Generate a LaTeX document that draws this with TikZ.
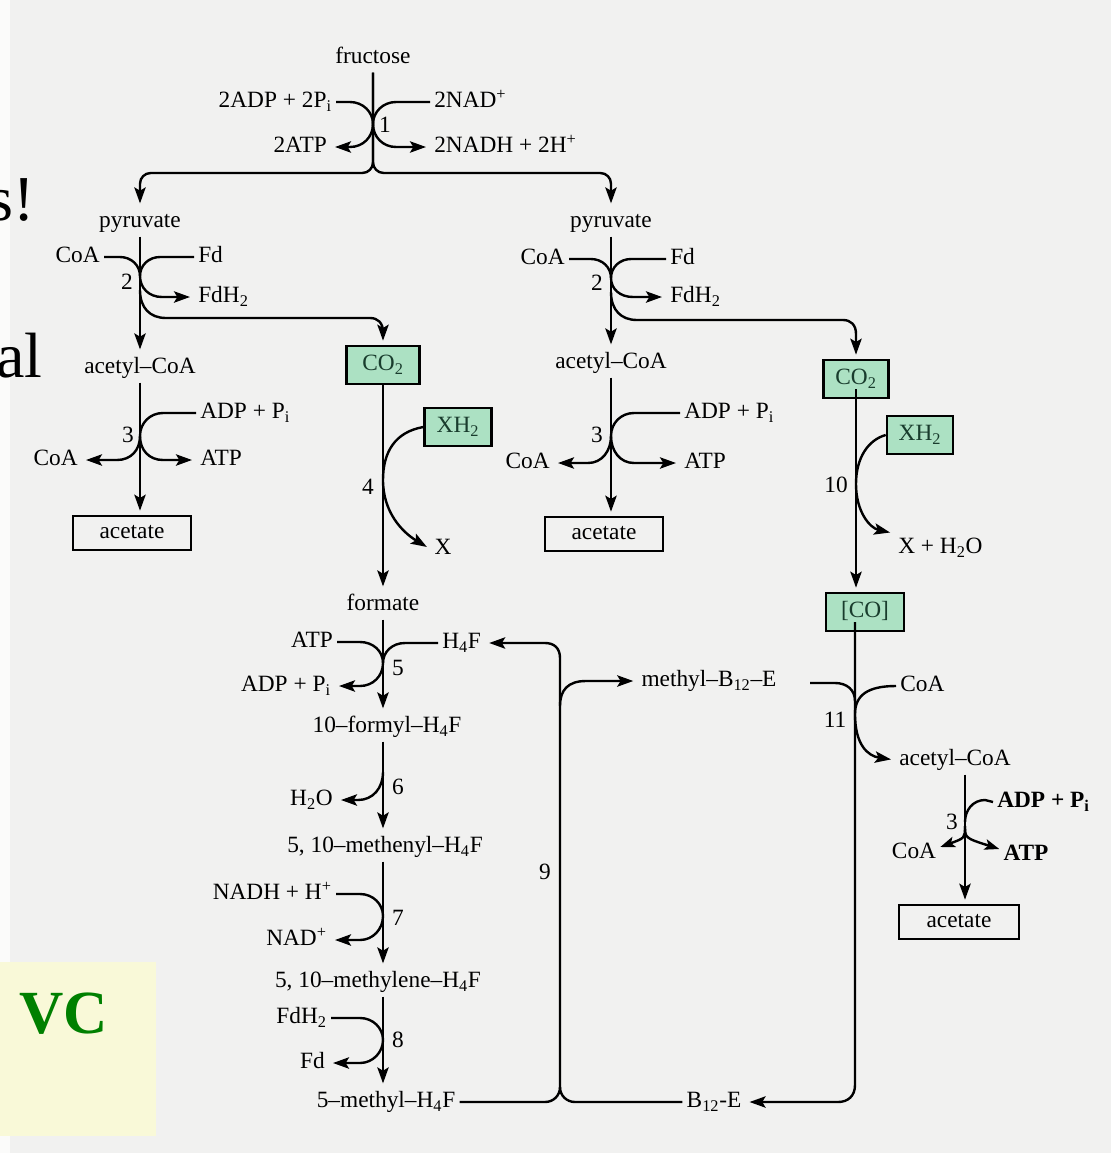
\documentclass[tikz,border=0pt]{standalone}
\usepackage{fontspec}
\setmainfont{Liberation Serif}
\usetikzlibrary{arrows.meta,calc}
\definecolor{bg}{RGB}{241,241,240}
\definecolor{boxg}{RGB}{172,225,195}
\definecolor{boxtxt}{RGB}{25,60,45}
\definecolor{vcg}{RGB}{0,128,0}
\definecolor{yel}{RGB}{249,249,216}
\newcommand\dfont{\fontsize{17.5}{21}\selectfont}
\begin{document}
\begin{tikzpicture}[x=0.75pt,y=-0.75pt,
  t/.style={inner sep=3pt, font=\dfont, text height=12pt, text depth=3.5pt},
  tb/.style={t, font=\dfont\bfseries},
  num/.style={inner sep=1pt, font=\dfont},
  ln/.style={line width=1.8pt},
  ar/.style={ln, -{Stealth[length=12pt,width=8.5pt,inset=2.5pt]}, shorten >=3pt},
  arn/.style={ln, -{Stealth[length=11pt,width=8pt,inset=2.5pt]}},
  abox/.style={t, draw, line width=1.5pt, minimum width=89pt, minimum height=26pt},
  gbox/.style={t, draw, line width=2pt, fill=boxg, text=boxtxt, minimum height=28.5pt},
  big/.style={inner sep=0pt, anchor=base west, font=\fontsize{48}{48}\selectfont}
]
\useasboundingbox (0,0) rectangle (1111,1153);
\clip (0,0) rectangle (1111,1153);
\fill[bg] (0,0) rectangle (1111,1153);
\fill[white!70!bg] (0,0) rectangle (10,1153);
\fill[yel] (0,962) rectangle (156,1136);

% slide fragments
\node[big] (sfrag) at (-12,220) {s!};
\node[big] (alfrag) at (-4,377) {al};
\node[inner sep=0pt, anchor=base west, text=vcg, font=\fontsize{46}{46}\selectfont\bfseries] (vc) at (19,1033) {VC};

% ---------- top: reaction 1 ----------
\node[t] (fru) at (373,58) {fructose};
\node[t,anchor=east] (adp1) at (336,102) {2ADP + 2P\textsubscript{i}};
\node[t,anchor=west] (nad1) at (430,102) {2NAD\textsuperscript{+}};
\node[t,anchor=east] (atp1) at (331,147) {2ATP};
\node[t,anchor=west] (nadh1) at (430,147) {2NADH + 2H\textsuperscript{+}};
\node[num] (n1) at (385,125) {1};
\coordinate (split) at (373,173);

% ---------- branch A ----------
\node[t] (pyrA) at (140,222) {pyruvate};
\node[t,anchor=east] (coa2A) at (104,257) {CoA};
\node[t,anchor=west] (fd2A) at (194,257) {Fd};
\node[t,anchor=west] (fdh2A) at (194,297) {FdH\textsubscript{2}};
\node[num] (n2A) at (127,282) {2};
\node[t] (acA) at (140,368) {acetyl--CoA};
\node[t,anchor=west] (adp3A) at (196,413) {ADP + P\textsubscript{i}};
\node[t,anchor=east] (coa3A) at (82,460) {CoA};
\node[t,anchor=west] (atp3A) at (196,460) {ATP};
\node[num] (n3A) at (128,435) {3};
\node[abox] (acetA) at (132,533) {acetate};

% ---------- middle column ----------
\coordinate (cm) at (383,0);
\node[gbox, minimum width=55pt] (co2A) at (383,365) {CO\textsubscript{2}};
\node[gbox, minimum width=50pt] (xh2A) at (458,427) {XH\textsubscript{2}};
\node[t] (xA) at (443,549) {X};
\node[num] (n4) at (368,487) {4};
\node[t] (form) at (383,605) {formate};
\node[t,anchor=east] (atp5) at (337,642) {ATP};
\node[t,anchor=east] (adp5) at (335,686) {ADP + P\textsubscript{i}};
\node[t,anchor=west] (h4f) at (438,643) {H\textsubscript{4}F};
\node[num] (n5) at (398,668) {5};
\node[t] (fH4F) at (387,727) {10--formyl--H\textsubscript{4}F};
\node[t,anchor=east] (h2o) at (337,800) {H\textsubscript{2}O};
\node[num] (n6) at (398,787) {6};
\node[t] (methenyl) at (385,847) {5, 10--methenyl--H\textsubscript{4}F};
\node[t,anchor=east] (nadh7) at (336,894) {NADH + H\textsuperscript{+}};
\node[t,anchor=east] (nad7) at (331,940) {NAD\textsuperscript{+}};
\node[num] (n7) at (398,918) {7};
\node[t] (methylene) at (378,982) {5, 10--methylene--H\textsubscript{4}F};
\node[t,anchor=east] (fdh8) at (331,1018) {FdH\textsubscript{2}};
\node[t,anchor=east] (fd8) at (329,1063) {Fd};
\node[num] (n8) at (398,1040) {8};
\node[t] (methyl) at (386,1102) {5--methyl--H\textsubscript{4}F};
\node[num] (n9) at (545,872) {9};
\node[t] (mb12) at (709,681) {methyl--B\textsubscript{12}--E};
\node[t] (b12) at (714,1102) {B\textsubscript{12}-E};

% ---------- branch B ----------
\node[t] (pyrB) at (611,222) {pyruvate};
\node[t,anchor=east] (coa2B) at (569,259) {CoA};
\node[t,anchor=west] (fd2B) at (666,259) {Fd};
\node[t,anchor=west] (fdh2B) at (666,297) {FdH\textsubscript{2}};
\node[num] (n2B) at (597,283) {2};
\node[t] (acB) at (611,363) {acetyl--CoA};
\node[t,anchor=west] (adp3B) at (680,413) {ADP + P\textsubscript{i}};
\node[t,anchor=east] (coa3B) at (554,463) {CoA};
\node[t,anchor=west] (atp3B) at (680,463) {ATP};
\node[num] (n3B) at (597,435) {3};
\node[abox, minimum width=88pt] (acetB) at (604,534) {acetate};

% ---------- right column ----------
\node[gbox, minimum width=49pt] (co2B) at (856,379) {CO\textsubscript{2}};
\node[gbox, minimum width=49.5pt] (xh2B) at (920,435) {XH\textsubscript{2}};
\node[t,anchor=west] (xh2oB) at (894,548) {X + H\textsubscript{2}O};
\node[num] (n10) at (836,485) {10};
\node[gbox, minimum width=58.5pt] (coBox) at (865,612) {[CO]\hspace{13.5pt}};
\node[t,anchor=west] (coa11) at (896,686) {CoA};
\node[t] (ac11) at (955,760) {acetyl--CoA};
\node[num] (n11) at (835,720) {11};
\coordinate (m11) at (810,683);
\node[tb,anchor=west] (adp3C) at (993,802) {ADP + P\textsubscript{i}};
\node[t] (coa3C) at (914,853) {CoA};
\node[tb] (atp3C) at (1026,855) {ATP};
\node[num] (n3C) at (952,822) {3};
\node[abox, minimum width=90pt] (acetC) at (959,922) {acetate};
\coordinate (cc) at (965,0);

% ================= connectors =================
% reaction 1
\draw[ar, rounded corners=8pt] (fru.south) -- (split) -| (pyrA.north);
\draw[ar, rounded corners=8pt] (fru.south) -- (split) -| (pyrB.north);
\draw[ar] (adp1.east) -- (350,102) .. controls (363,102) and (373,112) .. (373,124) .. controls (373,137) and (363,147) .. (350,147) -- (atp1.east);
\draw[ar] (nad1.west) -- (396,102) .. controls (383,102) and (373,112) .. (373,124) .. controls (373,137) and (383,147) .. (396,147) -- (nadh1.west);

% branch A
\draw[ar] (pyrA.south) -- (acA.north);
\draw[ln] (coa2A.east) -- (120,257) .. controls (131,257) and (140,265) .. (140,276);
\draw[ar] (fd2A.west) -- (160,257) .. controls (149,257) and (140,265) .. (140,276) .. controls (140,288) and (149,297) .. (162,297) -- (fdh2A.west);
\draw[ar] (140,290) .. controls (140,308) and (150,318) .. (166,318) -- (370,318) .. controls (378,318) and (383,323) .. (383,332) -- (co2A.north);
\draw[ar] (acA.south) -- (acA.south |- acetA.north);
\draw[ln] (adp3A.west) -- (163,413) .. controls (150,413) and (140,423) .. (140,436);
\draw[ar] (140,436) .. controls (140,450) and (131,460) .. (117,460) -- (coa3A.east);
\draw[ar] (140,436) .. controls (140,450) and (149,460) .. (163,460) -- (atp3A.west);

% middle column
\draw[ar] (co2A.south) -- (form.north);
\draw[ar] (xh2A.west) .. controls (395,432) and (383,452) .. (383,480) .. controls (383,512) and (402,532) .. (xA.west);
\draw[ar] (form.south -| cm) -- (fH4F.north -| cm);
\draw[ar] (atp5.east) -- (360,642) .. controls (373,642) and (383,651) .. (383,663) .. controls (383,676) and (373,686) .. (360,686) -- (adp5.east);
\draw[ln] (h4f.west) -- (405,643) .. controls (392,643) and (383,652) .. (383,663);
\draw[ar] (fH4F.south -| cm) -- (methenyl.north -| cm);
\draw[ar] (383,772) .. controls (383,788) and (373,800) .. (358,800) -- (h2o.east);
\draw[ar] (methenyl.south -| cm) -- (methylene.north -| cm);
\draw[ar] (nadh7.east) -- (360,894) .. controls (373,894) and (383,904) .. (383,916) .. controls (383,929) and (373,940) .. (360,940) -- (nad7.east);
\draw[ar] (methylene.south -| cm) -- (methyl.north -| cm);
\draw[ar] (fdh8.east) -- (360,1018) .. controls (373,1018) and (383,1028) .. (383,1040) .. controls (383,1052) and (373,1063) .. (360,1063) -- (fd8.east);

% cycle 9
\draw[ar] (methyl.east) -- (545,1102) .. controls (553,1102) and (560,1096) .. (560,1087) -- (560,658) .. controls (560,648) and (554,643) .. (545,643) -- (h4f.east);
\draw[ln] (b12.west) -- (575,1102) .. controls (567,1102) and (560,1096) .. (560,1087);
\draw[ar] (560,706) .. controls (560,690) and (568,681) .. (586,681) -- (mb12.west);

% branch B
\draw[ar] (pyrB.south) -- (acB.north);
\draw[ln] (coa2B.east) -- (591,259) .. controls (602,259) and (611,267) .. (611,278);
\draw[ar] (fd2B.west) -- (631,259) .. controls (620,259) and (611,267) .. (611,278) .. controls (611,289) and (620,297) .. (633,297) -- (fdh2B.west);
\draw[ar] (611,292) .. controls (611,310) and (621,320) .. (637,320) -- (843,320) .. controls (851,320) and (856,325) .. (856,334) -- (co2B.north);
\draw[ar] (acB.south) -- (acB.south |- acetB.north);
\draw[ln] (adp3B.west) -- (634,413) .. controls (621,413) and (611,423) .. (611,436);
\draw[ar] (611,436) .. controls (611,451) and (602,463) .. (588,463) -- (coa3B.east);
\draw[ar] (611,436) .. controls (611,451) and (620,463) .. (634,463) -- (atp3B.west);

% right column
\draw[ar] ($(co2B.center)+(0,10)$) -- (co2B.center |- coBox.north);
\draw[ar] (xh2B.west) .. controls (868,440) and (856,458) .. (856,484) .. controls (856,512) and (870,528) .. (xh2oB.north west);
\draw[ar] ($(coBox.center)+(-10,10)$) -- (855,1085) .. controls (855,1096) and (848,1102) .. (838,1102) -- (b12.east);
\draw[ln] (m11) -- (835,683) .. controls (847,683) and (855,690) .. (855,701);
\draw[ar] (coa11.west) .. controls (868,686) and (855,695) .. (855,714) .. controls (855,745) and (868,756) .. (ac11.west);

% reaction 3 (right)
\draw[ar] (ac11.south -| cc) -- (acetC.north -| cc);
\draw[ln] (adp3C.west) -- (985,800) .. controls (973,800) and (965,810) .. (965,822);
\draw[arn] (965,826) .. controls (965,838) .. ($(coa3C.east)+(0,-6)$);
\draw[arn] (965,826) .. controls (965,838) .. ($(atp3C.west)+(0,-6)$);
\end{tikzpicture}
\end{document}
